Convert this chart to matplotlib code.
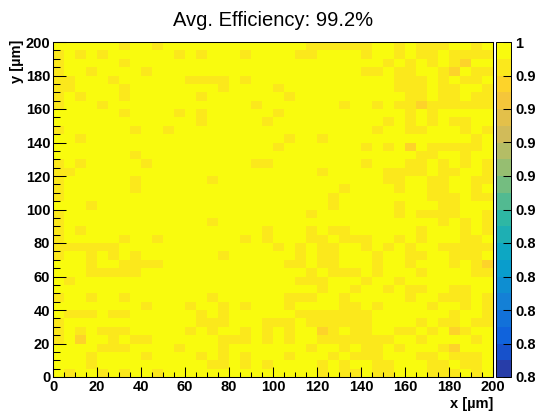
import math
import numpy as np
import matplotlib

matplotlib.use('Agg')
import matplotlib.pyplot as plt
from matplotlib.colors import LinearSegmentedColormap, ListedColormap, BoundaryNorm
from matplotlib.ticker import MultipleLocator, FuncFormatter

# pixel bins of 5 um along both axes
x_edges = np.arange(0, 205, 5)
y_edges = np.arange(0, 205, 5)

# efficiency step per cell, top row (y = 195..200) first:
# 0 -> 99.5 %, 1 -> 98.5 %, 2 -> 97.5 %
eff_rows = [
    "00000010010000000000" "00011111100101110010",
    "10101000000101000100" "00110000100101101111",
    "10000010000000000000" "00000000001010101200",
    "10010000100000000000" "00000000110110012011",
    "11000100000011110100" "00000000000111010110",
    "11000010000000010000" "10000000000111011001",
    "10100010000001000000" "01000000000011011011",
    "10001000000000000010" "00000010010112111111",
    "00000010000101000000" "10000000000010100000",
    "00000000000001000001" "00000000001010101100",
    "10000001001000000000" "00000000010011000101",
    "00100000000000000000" "01001000000000000010",
    "00000000000000000000" "10000000101020111110",
    "00000001000000000000" "00000000000001100100",
    "10100000100000000011" "00000000100011010101",
    "11000000000000000000" "00001000001111011001",
    "10000001000000100000" "00000000001100110011",
    "10000001000000000000" "00000010000100110010",
    "10000000000000000000" "00000100000000111011",
    "00010000000000000000" "00000100000100011000",
    "10000000000000000000" "00010000000101111001",
    "10000000000000100000" "00000000000000010101",
    "10100000000000000001" "00010110000001000101",
    "10000010010000000101" "00011011100101000110",
    "11111100000000000000" "10101100101010011111",
    "10010101000000010000" "00101100010011001110",
    "00010011110000000000" "01101100010010001012",
    "00011111000000000000" "00010111010001000011",
    "01000000000000000000" "00111000100100000000",
    "00000000000000000000" "00001001001011001100",
    "10010010000000100000" "01110010000010011101",
    "00000000100010010100" "01000011010000100101",
    "01110110000001010000" "00111111100000001001",
    "10000000000001110001" "11011111100001011011",
    "10101110000010100101" "01002101100110102100",
    "10200101100000011101" "01001111111001000010",
    "00001110000100010000" "00010010110100012000",
    "00010000100001010100" "01000101110001101110",
    "00010000000000110101" "00001010011000110110",
    "01001010010000000000" "00001011011000111010",
]
eff_step = [0.995, 0.985, 0.975]
avg_eff = 99.2

z_min, z_max = 0.8, 1.0
n_cont = 20

# kBird palette
bird_stops = [0.0000, 0.1250, 0.2500, 0.3750, 0.5000, 0.6250, 0.7500, 0.8750, 1.0000]
bird_red = [0.2082, 0.0592, 0.0780, 0.0232, 0.1802, 0.5301, 0.8186, 0.9956, 0.9764]
bird_green = [0.1664, 0.3599, 0.5041, 0.6419, 0.7178, 0.7492, 0.7328, 0.7862, 0.9832]
bird_blue = [0.5293, 0.8684, 0.8385, 0.7914, 0.6425, 0.4662, 0.3499, 0.1968, 0.0539]

bird = LinearSegmentedColormap.from_list(
    'bird', list(zip(bird_stops, zip(bird_red, bird_green, bird_blue))), N=255)
band_idx = [int((i + 0.99) * 255 / n_cont) for i in range(n_cont)]
cmap = ListedColormap([bird(k / 254) for k in band_idx])
levels = np.linspace(z_min, z_max, n_cont + 1)
norm = BoundaryNorm(levels, cmap.N)

eff = np.array([[eff_step[int(c)] for c in row] for row in eff_rows])[::-1]

plt.rcParams['font.family'] = ['Liberation Sans', 'DejaVu Sans']

fig = plt.figure(figsize=(5.35, 4.16), dpi=100)
W, H = 535.0, 416.0
ax = fig.add_axes([53 / W, 1 - 377 / H, 440 / W, 335 / H])
cax = fig.add_axes([496 / W, 1 - 377 / H, 15 / W, 335 / H])

mesh = ax.pcolormesh(x_edges, y_edges, eff, cmap=cmap, norm=norm,
                     edgecolors='none', antialiased=False, rasterized=True)
ax.set_xlim(0, 200)
ax.set_ylim(0, 200)

lbl_kwargs = {'fontsize': 10.5, 'fontweight': 'bold'}
ax.xaxis.set_major_locator(MultipleLocator(20))
ax.xaxis.set_minor_locator(MultipleLocator(5))
ax.yaxis.set_major_locator(MultipleLocator(20))
ax.yaxis.set_minor_locator(MultipleLocator(5))
ax.tick_params(axis='both', which='both', direction='in', top=False, right=False,
               width=0.75, color='black')
ax.tick_params(axis='x', which='major', length=7.2, pad=2.5)
ax.tick_params(axis='x', which='minor', length=3.6)
ax.tick_params(axis='y', which='major', length=9.4, pad=2)
ax.tick_params(axis='y', which='minor', length=4.7)
for lab in ax.get_xticklabels() + ax.get_yticklabels():
    lab.set_fontsize(lbl_kwargs['fontsize'])
    lab.set_fontweight('bold')
for sp in ax.spines.values():
    sp.set_linewidth(0.75)

cb = fig.colorbar(mesh, cax=cax, ticks=levels[::2])
cb.outline.set_linewidth(0.7)
cb.ax.yaxis.set_major_formatter(FuncFormatter(
    lambda v, pos: '1' if v > 0.999 else f'{math.floor(v * 10 + 1e-6) / 10:.1f}'))
cb.ax.minorticks_off()
cax.tick_params(axis='y', direction='in', length=6, width=0.75, pad=3,
                labelsize=lbl_kwargs['fontsize'])
for lab in cax.get_yticklabels():
    lab.set_fontweight('bold')

fig.text(273 / W, 1 - 20 / H, f'Avg. Efficiency: {avg_eff:.1f}%',
         ha='center', va='center', fontsize=14.5)
fig.text(493 / W, 1 - 404 / H, 'x [µm]', ha='right', va='center', **lbl_kwargs)
fig.text(17 / W, 1 - 40 / H, 'y [µm]', ha='center', va='top', rotation=90, **lbl_kwargs)

fig.savefig('out.png', dpi=100)
